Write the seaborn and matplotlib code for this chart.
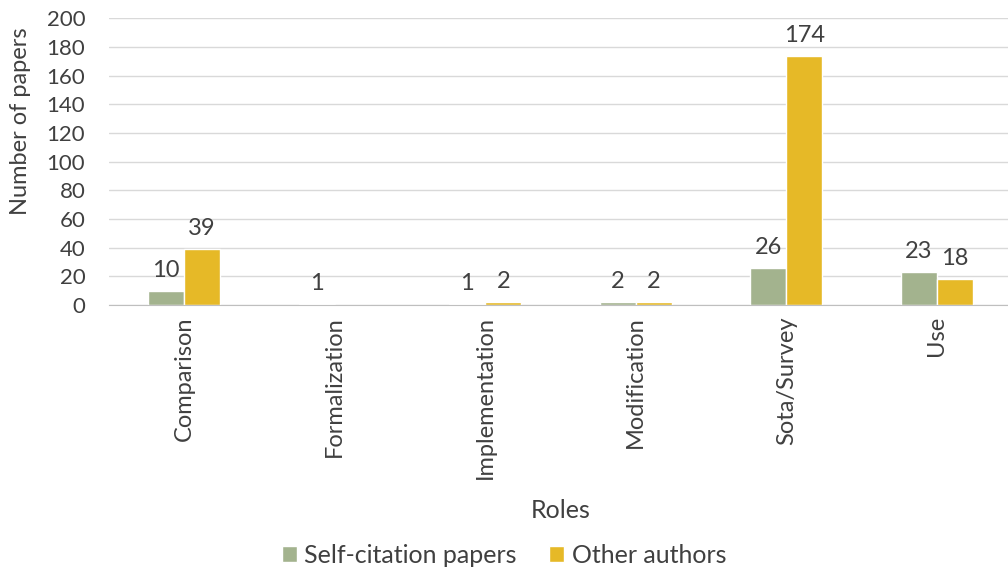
import pandas as pd
import numpy as np
import matplotlib
matplotlib.use("Agg")
import matplotlib.pyplot as plt
import seaborn as sns

roles = ["Comparison", "Formalization", "Implementation", "Modification", "Sota/Survey", "Use"]
self_citation = [10, 1, 1, 2, 26, 23]
other_authors = [39, 0, 2, 2, 174, 18]
series = ["Self-citation papers", "Other authors"]
colors = ["#A3B38E", "#E6B927"]

df = pd.DataFrame({
    "Roles": roles * 2,
    "Papers": self_citation + other_authors,
    "Series": [series[0]] * len(roles) + [series[1]] * len(roles),
})

sns.set_style("white")
plt.rcParams["font.family"] = ["Lato", "DejaVu Sans"]

fig = plt.figure(figsize=(10.08, 5.7), dpi=100)
# plot area runs slightly past the right edge, as in the cropped original
ax = fig.add_axes([0.108, 0.465, 0.896, 0.503])

sns.barplot(data=df, x="Roles", y="Papers", hue="Series", palette=colors,
            width=0.48, gap=0, saturation=1, ax=ax, legend=True)

for cont in ax.containers:
    labels = [f"{int(v)}" if v > 0 else "" for v in cont.datavalues]
    ax.bar_label(cont, labels=labels, padding=7, fontsize=17, color="#404040")

ax.set_ylim(0, 200)
ax.set_yticks(range(0, 201, 20))
ax.set_xlim(-0.5, len(roles) - 0.5)
ax.yaxis.grid(True, color="#D9D9D9", linewidth=1)
ax.set_axisbelow(True)
for s in ["top", "right", "left"]:
    ax.spines[s].set_visible(False)
ax.spines["bottom"].set_color("#BFBFBF")

ax.tick_params(axis="y", length=0, labelsize=16, labelcolor="#404040", pad=17)
ax.tick_params(axis="x", which="major", length=0, labelsize=17, labelcolor="#404040", pad=8)
ax.set_xticks(np.arange(-0.5, len(roles), 1), minor=True)
ax.tick_params(axis="x", which="minor", length=7, width=1, color="#BFBFBF", direction="out")
plt.setp(ax.get_xticklabels(), rotation=90, ha="center", va="top")

ax.set_ylabel("Number of papers", fontsize=17, color="#404040")
ax.yaxis.set_label_coords(-0.086, 0.64)
ax.set_xlabel("Roles", fontsize=18, color="#404040", labelpad=14)

handles, lbls = ax.get_legend_handles_labels()
ax.legend(handles, lbls, loc="lower center", bbox_to_anchor=(0.5, -0.008), bbox_transform=fig.transFigure,
          ncol=2, frameon=False, fontsize=18, handlelength=0.6, handleheight=0.6,
          handletextpad=0.3, columnspacing=1.3, labelcolor="#404040",
          borderaxespad=0.1, borderpad=0.2)

fig.savefig("out.png", dpi=100)
